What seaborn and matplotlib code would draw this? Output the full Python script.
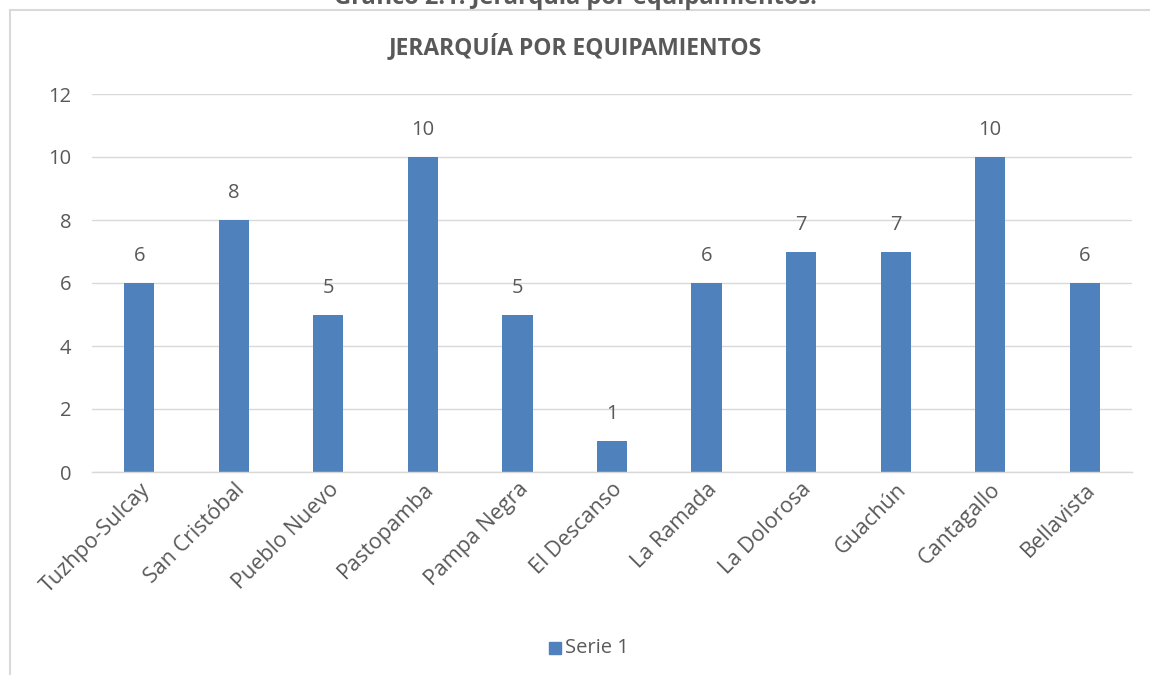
import matplotlib
matplotlib.use("Agg")
import matplotlib.pyplot as plt
import seaborn as sns
import pandas as pd
from matplotlib.patches import Rectangle

categories = ["Tuzhpo-Sulcay", "San Cristóbal", "Pueblo Nuevo", "Pastopamba",
              "Pampa Negra", "El Descanso", "La Ramada", "La Dolorosa",
              "Guachún", "Cantagallo", "Bellavista"]
values = [6, 8, 5, 10, 5, 1, 6, 7, 7, 10, 6]
series_name = "Serie 1"
yticks = [0, 2, 4, 6, 8, 10, 12]

df = pd.DataFrame({"categoria": categories, "valor": values, "serie": series_name})

sns.set_theme(style="white")
plt.rcParams["font.family"] = ["Open Sans", "DejaVu Sans"]

TEXT = "#595959"
BAR = "#4f81bd"
GRID = "#d9d9d9"

fig = plt.figure(figsize=(11.5, 6.75), dpi=100)
ax = fig.add_axes([92 / 1150, 1 - 472 / 675, (1132 - 92) / 1150, (472 - 94) / 675])

sns.barplot(data=df, x="categoria", y="valor", hue="serie", palette=[BAR],
            saturation=1, width=0.32, ax=ax, legend=False, edgecolor="none")

ax.set_ylim(0, 12)
ax.set_xlim(-0.5, len(categories) - 0.5)
ax.set_yticks(yticks)
ax.grid(axis="y", color=GRID, linewidth=1)
ax.set_axisbelow(True)
for s in ["top", "right", "left"]:
    ax.spines[s].set_visible(False)
ax.spines["bottom"].set_color(GRID)
ax.spines["bottom"].set_linewidth(1)
ax.tick_params(axis="both", length=0, colors=TEXT, labelsize=14.5)
ax.tick_params(axis="y", pad=15)
ax.set_xlabel("")
ax.set_ylabel("")
ax.set_xticks(range(len(categories)))
ax.set_xticklabels(categories, rotation=45, ha="right", rotation_mode="anchor",
                   color=TEXT, fontsize=15.5)
ax.tick_params(axis="x", pad=5)

for c in ax.containers:
    ax.bar_label(c, labels=[str(v) for v in values], padding=12,
                 color=TEXT, fontsize=14.5)

# chart frame
fig.patches.append(Rectangle((10 / 1150, -0.05), 1.2, 1 - 10 / 675 + 0.05,
                             transform=fig.transFigure, fill=False,
                             edgecolor=GRID, linewidth=1.5))

fig.text(0.5, 1 - 47 / 675, "JERARQUÍA POR EQUIPAMIENTOS", ha="center",
         va="center", fontsize=16.5, fontweight="bold", color=TEXT)
fig.text(0.5, 1 + 2 / 675, "Gráfico 2.1: Jerarquía por equipamientos.",
         ha="center", va="center", fontsize=17, fontweight="bold", color=TEXT)

# legend
fig.patches.append(Rectangle((549 / 1150, 1 - 654 / 675), 12 / 1150, 12 / 675,
                             transform=fig.transFigure, color=BAR))
fig.text(565 / 1150, 1 - 648 / 675, series_name, ha="left", va="center",
         fontsize=14.5, color=TEXT)

fig.savefig("out.png", dpi=100)
